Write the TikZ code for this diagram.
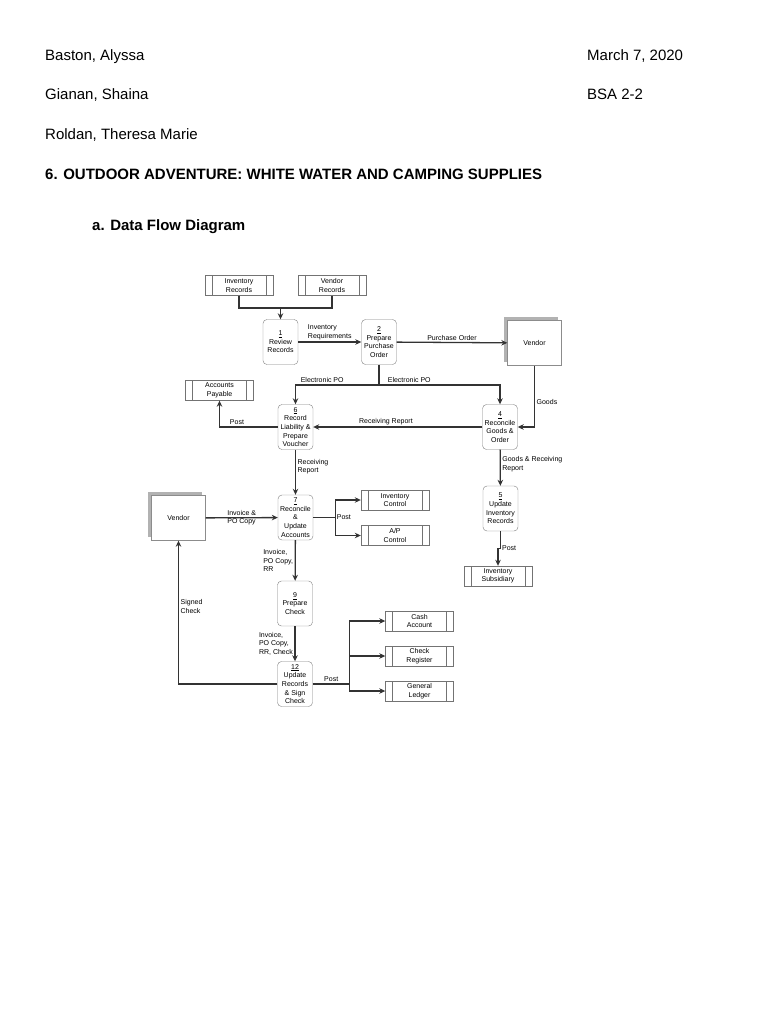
\documentclass[tikz,border=0pt]{standalone}
\usepackage{fontspec}
\setmainfont{Liberation Sans}
\usetikzlibrary{
  arrows.meta,
  shadows
}
\newcommand\dfdfont{\fontsize{7}{8.6}\selectfont}
\tikzset{
  procbox/.style={
    draw=black!50,
    rounded corners=4pt,
    fill=white,
    minimum width=35pt,
    minimum height=45pt,
    inner sep=0.5pt,
    align=center,
    font=\dfdfont
  },
  datastore/.style={
    draw=black!55,
    fill=white,
    minimum width=68pt,
    minimum height=20pt,
    inner sep=0pt,
    align=center,
    font=\dfdfont,
    path picture={
      \draw[black!55]
        ([xshift=7pt]path picture bounding box.north west)
        -- ([xshift=7pt]path picture bounding box.south west);
      \draw[black!55]
        ([xshift=-7pt]path picture bounding box.north east)
        -- ([xshift=-7pt]path picture bounding box.south east);
    }
  },
  entity/.style={
    draw=black!45,
    fill=white,
    minimum width=54pt,
    minimum height=45pt,
    font=\dfdfont,
    general shadow={
      fill=black!30,
      shadow xshift=-4pt,
      shadow yshift=4pt
    }
  },
  link/.style={
    draw=black!80,
    line width=1.3pt
  },
  flow/.style={
    link,
    -{Stealth[length=6pt,width=5.5pt]}
  },
  flowlabel/.style={
    font=\dfdfont,
    inner sep=1.5pt,
    align=left
  },
  heading/.style={
    font=\fontsize{15}{18}\selectfont,
    anchor=base west,
    inner sep=0pt
  }
}

\begin{document}
\begin{tikzpicture}[x=1pt, y=-1pt]

    \fill[white] (0,0) rectangle (768,1024);
    \useasboundingbox (0,0) rectangle (768,1024);

    % ---------- heading ----------
    \node[heading] (name1) at (45,61) {Baston, Alyssa};
    \node[heading] (name2) at (45,100) {Gianan, Shaina};
    \node[heading] (name3) at (45,140) {Roldan, Theresa Marie};
    \node[heading] (date) at (587,61) {March 7, 2020};
    \node[heading] (section) at (587,100) {BSA 2-2};
    \node[heading, font=\fontsize{15}{18}\selectfont\bfseries] (title) at (45,180)
      {6. OUTDOOR ADVENTURE: WHITE WATER AND CAMPING SUPPLIES};
    \node[heading, font=\fontsize{15}{18}\selectfont\bfseries] (subtitle) at (92,230)
      {a. Data Flow Diagram};

    % ---------- data stores ----------
    \node[datastore] (invrec) at (239,285.5) {Inventory\\Records};
    \node[datastore] (vendrec) at (332,285.5) {Vendor\\Records};
    \node[datastore] (ap) at (219.5,390.5) {Accounts\\Payable};
    \node[datastore] (invctl) at (395,500) {Inventory\\Control};
    \node[datastore] (apctl) at (395,535.5) {A/P\\Control};
    \node[datastore] (invsub) at (498,576) {Inventory\\Subsidiary};
    \node[datastore] (cash) at (419.5,621) {Cash\\Account};
    \node[datastore] (checkreg) at (419.5,656) {Check\\Register};
    \node[datastore] (ledger) at (419.5,691) {General\\Ledger};

    % ---------- external entities ----------
    \node[entity] (vendorA) at (534.5,343) {Vendor};
    \node[entity] (vendorB) at (178.5,518) {Vendor};

    % ---------- processes ----------
    \node[procbox] (p1) at (280.5,342) {\underline{1}\\Review\\Records};
    \node[procbox] (p2) at (379,342) {\underline{2}\\Prepare\\Purchase\\Order};
    \node[procbox] (p6) at (295.5,427) {\underline{6}\\Record\\Liability \&\\Prepare\\Voucher};
    \node[procbox] (p4) at (500,427) {\underline{4}\\Reconcile\\Goods \&\\Order};
    \node[procbox] (p7) at (295.5,517.5) {\underline{7}\\Reconcile\\\&\\Update\\Accounts};
    \node[procbox] (p5) at (500.5,508.5) {\underline{5}\\Update\\Inventory\\Records};
    \node[procbox] (p9) at (295,603.5) {\underline{9}\\Prepare\\Check};
    \node[procbox] (p12) at (295,684) {\underline{12}\\Update\\Records\\\& Sign\\Check};

    % ---------- flows ----------
    \coordinate (merge) at (p1.north |- 0,308);
    \draw[link] (invrec.south) |- (merge);
    \draw[link] (vendrec.south) |- (merge);
    \draw[flow] (merge) -- (p1.north);

    \draw[flow] (p1) -- node[flowlabel, above] {Inventory\\Requirements} (p2);
    \draw[flow] (p2) -- node[flowlabel, above] {Purchase Order} (vendorA);
    \draw[flow] (vendorA.south) |- node[flowlabel, right, pos=0.3] {Goods} (p4.east);

    % electronic PO
    \coordinate (epo) at (p2.south |- 0,385);
    \draw[link] (p2.south) -- (epo);
    \draw[flow] (epo) -| node[flowlabel, above, pos=0.34] {Electronic PO} (p6.north);
    \draw[flow] (epo) -| node[flowlabel, above, pos=0.125] {Electronic PO} (p4.north);

    \draw[flow] (p4.west) -- node[flowlabel, above, pos=0.57] {Receiving Report} (p6.east);
    \draw[flow] (p6.west) -| node[flowlabel, above, pos=0.35] {Post} (ap.south);
    \draw[flow] (p6) -- node[flowlabel, right, pos=0.38] {Receiving\\Report} (p7);

    \draw[flow] (vendorB) -- node[flowlabel] {Invoice \&\\PO Copy} (p7);

    % post from 7
    \coordinate (post7) at ([xshift=22pt]p7.east);
    \draw[link] (p7.east) -- (post7);
    \draw[flow] (post7) |- (invctl.west);
    \draw[flow] (post7) |- (apctl.west);
    \node[flowlabel, right] (post7lbl) at (post7) {Post};

    \draw[flow] (p4) -- node[flowlabel, right, pos=0.4] {Goods \& Receiving\\Report} (p5);
    \draw[flow] (p5.south) -- ++(0,17) -| node[flowlabel, right, pos=0.1] {Post} (invsub.north);

    \draw[flow] (p7) -- node[flowlabel, left] {Invoice,\\PO Copy,\\RR} (p9);
    \draw[flow] (p9) -- node[flowlabel, left] {Invoice,\\PO Copy,\\RR, Check} (p12);

    \draw[flow] (p12.west) -| node[flowlabel, right, pos=0.77] {Signed\\Check} (vendorB.south);

    % post from 12
    \coordinate (post12) at ([xshift=37pt]p12.east);
    \draw[link] (p12.east) -- node[flowlabel, above] {Post} (post12);
    \draw[flow] (post12) |- (cash.west);
    \draw[flow] (post12) |- (checkreg.west);
    \draw[flow] (post12) |- (ledger.west);

\end{tikzpicture}
\end{document}
